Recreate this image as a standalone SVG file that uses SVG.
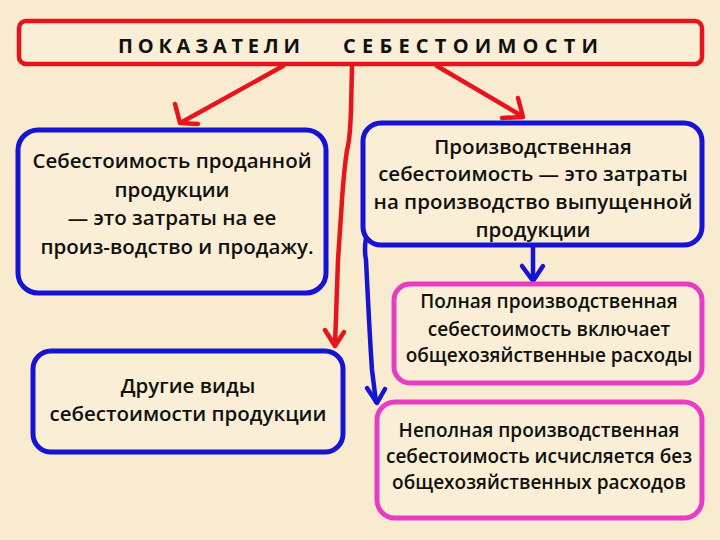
<svg xmlns="http://www.w3.org/2000/svg" width="720" height="540" viewBox="0 0 720 540">
<style>
.bg{fill:#f8ebcf}
.red{stroke:#e8141c}
.blue{stroke:#1414d2}
.pink{stroke:#e83cc4}
.b{stroke-width:5;fill:#faefd6}
.t{font-family:"Open Sans","Noto Sans","DejaVu Sans",sans-serif;font-weight:600;font-size:20.5px;fill:#111;text-anchor:middle}
.p{font-size:19px}
.tt{font-family:"Open Sans","DejaVu Sans",sans-serif;font-weight:700;font-size:20px;fill:#111}
.ln{fill:none;stroke-width:4.5;stroke-linecap:round;stroke-linejoin:round}
</style>
<rect class="bg" x="0" y="0" width="720" height="540"/>
<g id="title">
<rect class="red" x="19" y="21" width="683" height="43" rx="7" fill="#faefd6" stroke-width="4.5"/>
<text class="tt" x="118" y="53" textLength="182" lengthAdjust="spacing">ПОКАЗАТЕЛИ</text>
<text class="tt" x="343" y="53" textLength="255" lengthAdjust="spacing">СЕБЕСТОИМОСТИ</text>
</g>
<g id="connectors">
<path class="ln red" d="M283 66 L182 122"/>
<polyline class="ln red" points="175,104 180,123 198,124"/>
<path class="ln red" d="M437 66 L522 116"/>
<polyline class="ln red" points="502,118 523,117 518,98"/>
<path class="ln red" d="M352 66 L351 110 Q350 140 347 150 Q344 170 342 200 L338 260 L335 345"/>
<polyline class="ln red" points="325,330 335,346 344,332"/>
<path class="ln blue" d="M533 246 L533 280"/>
<polyline class="ln blue" points="522,266 533,281 543,266"/>
<path class="ln blue" d="M366 238 Q364 250 366 260 L368 300 Q370 340 372 370 L376 402"/>
<polyline class="ln blue" points="367,388 377,403 385,389"/>
</g>
<g id="n1">
<rect class="b blue" x="18" y="130" width="308" height="163" rx="20"/>
<text class="t" x="172" y="168">Себестоимость проданной</text>
<text class="t" x="172" y="197">продукции</text>
<text class="t" x="172" y="225">— это затраты на ее</text>
<text class="t" x="177" y="254">произ-водство и продажу.</text>
</g>
<g id="n2">
<rect class="b blue" x="363" y="123" width="339" height="122" rx="18"/>
<text class="t" x="533" y="154">Производственная</text>
<text class="t" x="533" y="181">себестоимость — это затраты</text>
<text class="t" x="533" y="209">на производство выпущенной</text>
<text class="t" x="533" y="237">продукции</text>
</g>
<g id="n3">
<rect class="b pink" x="394" y="284" width="308" height="99" rx="16"/>
<text class="t p" x="549" y="308">Полная производственная</text>
<text class="t p" x="549" y="336">себестоимость включает</text>
<text class="t p" x="549" y="362">общехозяйственные расходы</text>
</g>
<g id="n4">
<rect class="b blue" x="33" y="351" width="310" height="101" rx="18"/>
<text class="t" x="188" y="393">Другие виды</text>
<text class="t" x="188" y="421">себестоимости продукции</text>
</g>
<g id="n5">
<rect class="b pink" x="377" y="402" width="325" height="116" rx="18"/>
<text class="t p" x="539" y="437">Неполная производственная</text>
<text class="t p" x="539" y="463">себестоимость исчисляется без</text>
<text class="t p" x="539" y="489">общехозяйственных расходов</text>
</g>
</svg>
